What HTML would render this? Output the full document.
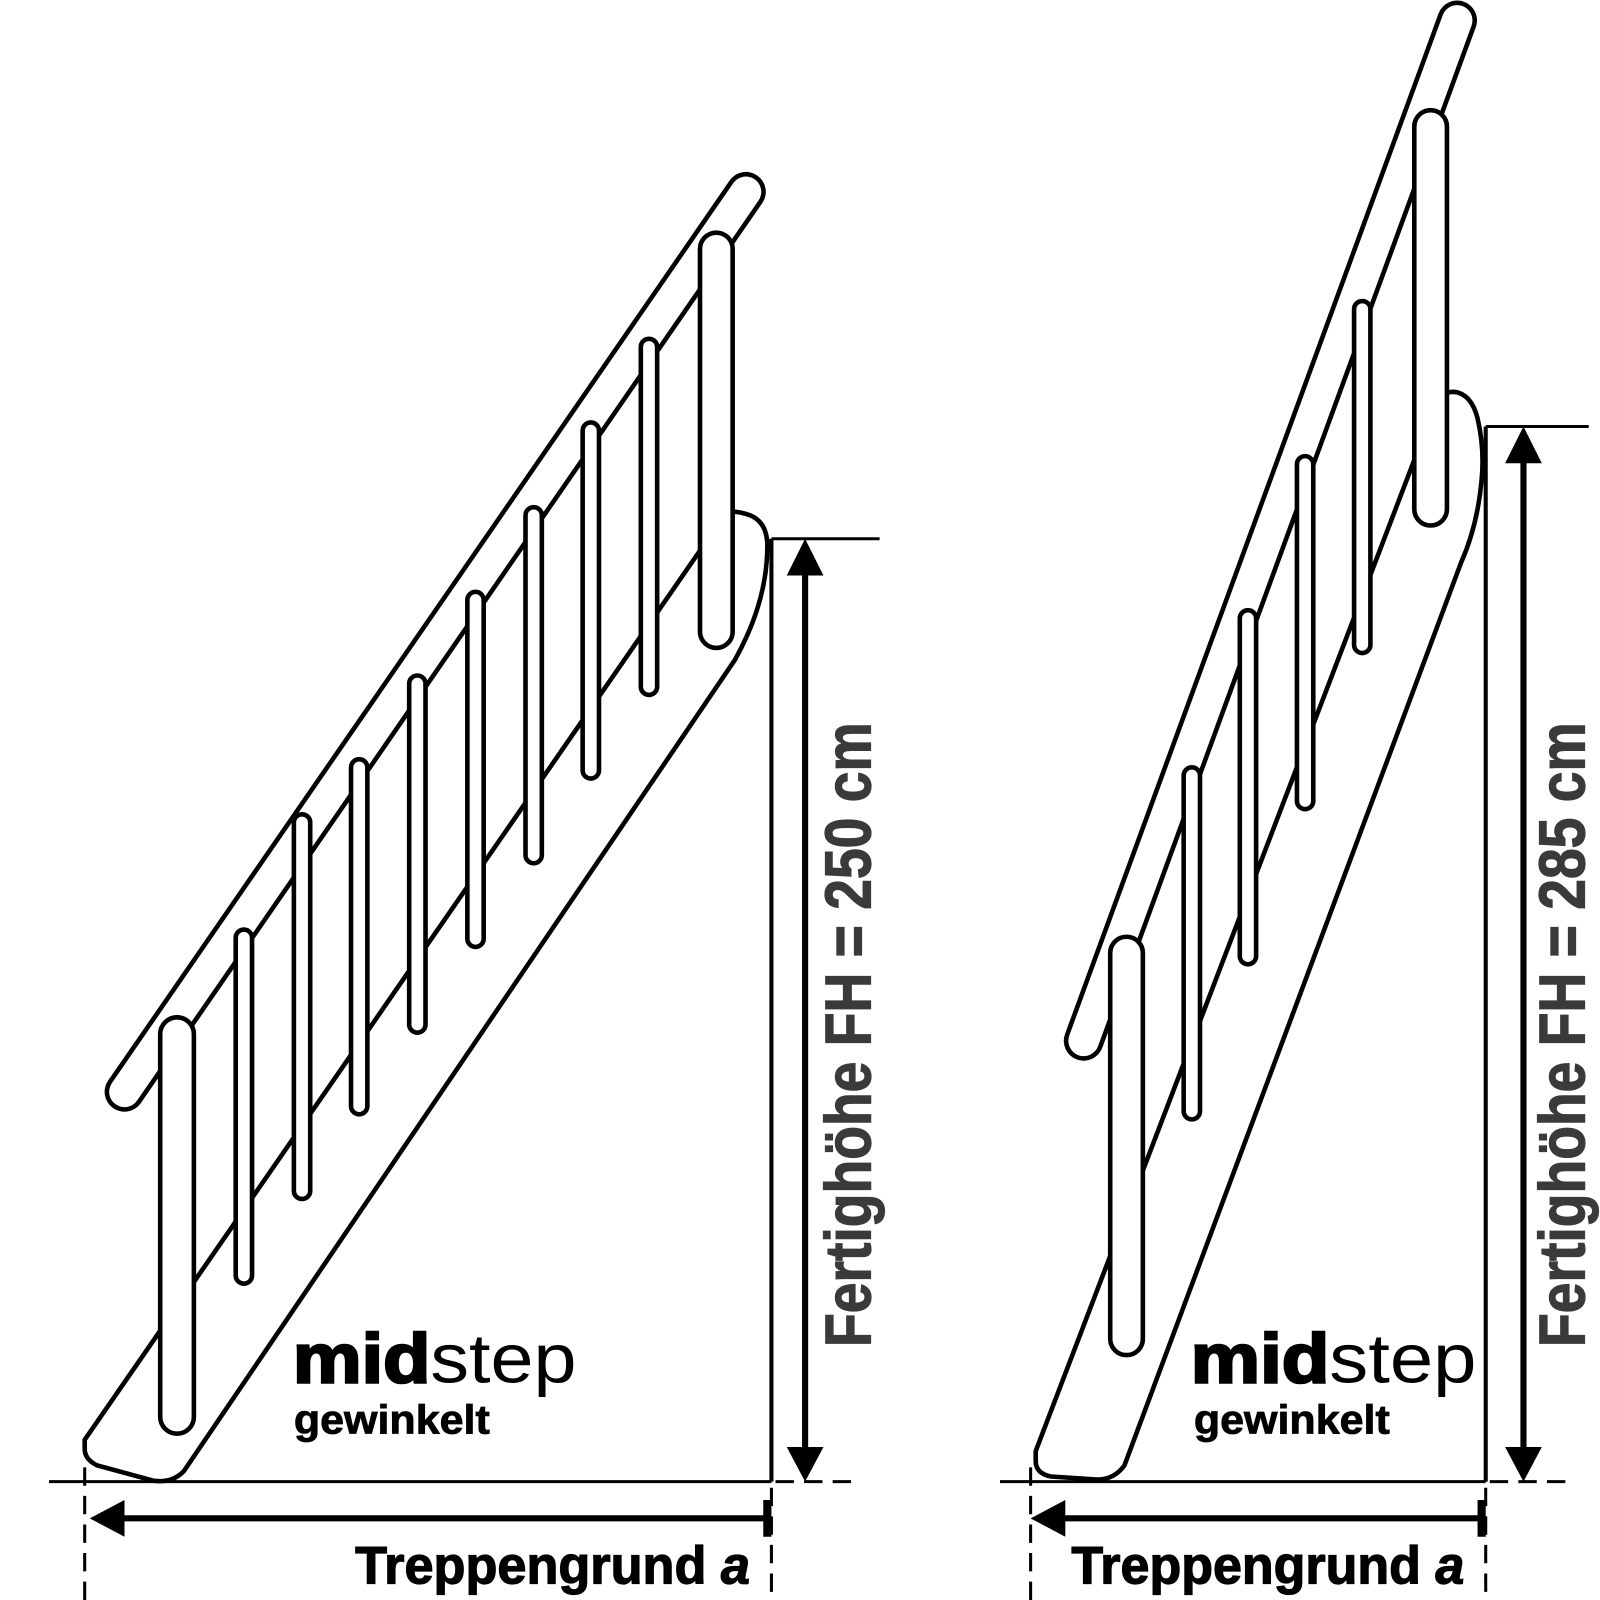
<!DOCTYPE html>
<html><head><meta charset="utf-8"><style>html,body{margin:0;padding:0;background:#fff}svg{display:block}</style></head>
<body>
<svg width="1600" height="1600" viewBox="0 0 1568 1568" xmlns="http://www.w3.org/2000/svg">
<g fill="#fff" stroke="#000" stroke-width="4.5">
<!-- LEFT STAIR -->
<line x1="122" y1="1070" x2="731" y2="188" stroke-width="39" stroke-linecap="round"/>
<line x1="122" y1="1070" x2="731" y2="188" stroke="#fff" stroke-width="30" stroke-linecap="round"/>
<path d="M83,1411 L712,502 Q722,500 735,505 Q752,512 752,535 Q752,590 720,647 L180,1442 Q168,1454 150,1451 L95,1436 Q83,1430 83,1420 Z"/>
<rect x="231" y="911" width="16" height="347" rx="8"/>
<rect x="288" y="798" width="16" height="377" rx="8"/>
<rect x="344" y="744" width="16" height="348" rx="8"/>
<rect x="401" y="662" width="16" height="350" rx="8"/>
<rect x="458" y="580" width="16" height="348" rx="8"/>
<rect x="515" y="497" width="16" height="349" rx="8"/>
<rect x="571" y="414" width="16" height="349" rx="8"/>
<rect x="628" y="332" width="16" height="349" rx="8"/>
<rect x="157" y="997" width="33" height="408" rx="16.5"/>
<rect x="686" y="228" width="32" height="407" rx="16"/>
<!-- RIGHT STAIR -->
<line x1="1062" y1="1020" x2="1428" y2="20" stroke-width="39" stroke-linecap="round"/>
<line x1="1062" y1="1020" x2="1428" y2="20" stroke="#fff" stroke-width="30" stroke-linecap="round"/>
<path d="M1015,1422 L1410,388 Q1418,384 1425,384 Q1442,386 1448,410 Q1455,440 1452,470 Q1448,515 1432,551 L1102,1436 Q1092,1450 1075,1450 L1030,1447 Q1015,1444 1015,1432 Z"/>
<rect x="1160" y="752" width="16" height="345" rx="8"/>
<rect x="1215" y="598" width="16" height="347" rx="8"/>
<rect x="1271" y="447" width="16" height="346" rx="8"/>
<rect x="1327" y="295" width="16" height="345" rx="8"/>
<rect x="1088" y="918" width="32" height="410" rx="16"/>
<rect x="1386" y="108" width="32" height="407" rx="16"/>
</g>
<g stroke="#000" fill="none">
<line x1="48" y1="1452" x2="756" y2="1452" stroke-width="3"/>
<line x1="756" y1="528" x2="756" y2="1452" stroke-width="4"/>
<line x1="756" y1="528" x2="862" y2="528" stroke-width="3"/>
<line x1="760" y1="1452" x2="836" y2="1452" stroke-width="3" stroke-dasharray="18,10"/>
<line x1="83" y1="1438" x2="83" y2="1568" stroke-width="3" stroke-dasharray="18,10"/>
<line x1="756" y1="1458" x2="756" y2="1568" stroke-width="3" stroke-dasharray="18,10"/>
<line x1="789" y1="555" x2="789" y2="1425" stroke-width="6"/>
<line x1="115" y1="1488" x2="752" y2="1488" stroke-width="6"/>
<line x1="752" y1="1470" x2="752" y2="1506" stroke-width="8"/>
<line x1="980" y1="1452" x2="1456" y2="1452" stroke-width="3"/>
<line x1="1456" y1="418" x2="1456" y2="1452" stroke-width="4"/>
<line x1="1456" y1="418" x2="1557" y2="418" stroke-width="3"/>
<line x1="1460" y1="1452" x2="1536" y2="1452" stroke-width="3" stroke-dasharray="18,10"/>
<line x1="1010" y1="1438" x2="1010" y2="1568" stroke-width="3" stroke-dasharray="18,10"/>
<line x1="1456" y1="1458" x2="1456" y2="1568" stroke-width="3" stroke-dasharray="18,10"/>
<line x1="1493" y1="445" x2="1493" y2="1425" stroke-width="6"/>
<line x1="1040" y1="1488" x2="1452" y2="1488" stroke-width="6"/>
<line x1="1452" y1="1470" x2="1452" y2="1506" stroke-width="8"/>
</g>
<g fill="#000">
<polygon points="789,528 771,564 807,564"/>
<polygon points="789,1452 771,1418 807,1418"/>
<polygon points="88,1488 122,1470 122,1506"/>
<polygon points="1493,418 1475,454 1511,454"/>
<polygon points="1493,1452 1475,1418 1511,1418"/>
<polygon points="1010,1488 1044,1470 1044,1506"/>
</g>
<g font-family="Liberation Sans, sans-serif" font-weight="bold">
<text x="348" y="1552" font-size="52" stroke="#000" stroke-width="1.2" textLength="387" lengthAdjust="spacingAndGlyphs">Treppengrund <tspan font-style="italic">a</tspan></text>
<text x="1050" y="1552" font-size="52" stroke="#000" stroke-width="1.2" textLength="385" lengthAdjust="spacingAndGlyphs">Treppengrund <tspan font-style="italic">a</tspan></text>
<text transform="translate(853,1320) rotate(-90)" font-size="64" fill="#3a3a3a" stroke="#3a3a3a" stroke-width="1.2" textLength="612" lengthAdjust="spacingAndGlyphs">Fertighöhe FH = 250 cm</text>
<text transform="translate(1553,1320) rotate(-90)" font-size="64" fill="#3a3a3a" stroke="#3a3a3a" stroke-width="1.2" textLength="612" lengthAdjust="spacingAndGlyphs">Fertighöhe FH = 285 cm</text>
<text x="287" y="1355" font-size="68" textLength="278" lengthAdjust="spacingAndGlyphs"><tspan stroke="#000" stroke-width="2.5">mid</tspan><tspan font-weight="normal">step</tspan></text>
<text x="288" y="1405" font-size="40" stroke="#000" stroke-width="0.8" textLength="192" lengthAdjust="spacingAndGlyphs">gewinkelt</text>
<text x="1167" y="1355" font-size="68" textLength="280" lengthAdjust="spacingAndGlyphs"><tspan stroke="#000" stroke-width="2.5">mid</tspan><tspan font-weight="normal">step</tspan></text>
<text x="1170" y="1405" font-size="40" stroke="#000" stroke-width="0.8" textLength="192" lengthAdjust="spacingAndGlyphs">gewinkelt</text>
</g>
</svg>
</body></html>
